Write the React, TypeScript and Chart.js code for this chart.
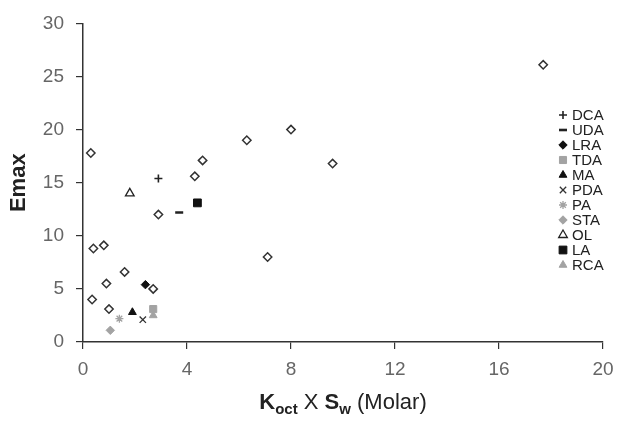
import React, { useEffect, useRef } from 'react';
import { Chart, registerables } from 'chart.js';
import { drawPoint } from 'chart.js/helpers';

Chart.register(...registerables);

const FONT = '"Liberation Sans", Arial, sans-serif';

// Open-diamond compounds (no legend entry)
const openX = [0.3, 6.3, 8.0, 17.7, 9.6, 4.6, 4.3, 2.9, 7.1, 0.4, 0.8, 1.6, 0.9, 2.7, 0.35, 1.0];
const openY = [17.8, 19.0, 20.0, 26.1, 16.8, 17.1, 15.6, 12.0, 8.0, 8.8, 9.1, 6.6, 5.5, 5.0, 4.0, 3.1];

// Labelled compounds
const seriesNames = ['DCA', 'UDA', 'LRA', 'TDA', 'MA', 'PDA', 'PA', 'STA', 'OL', 'LA', 'RCA'];
const seriesX = [2.9, 3.7, 2.4, 2.7, 1.9, 2.3, 1.4, 1.05, 1.8, 4.4, 2.7];
const seriesY = [15.4, 12.2, 5.4, 3.1, 2.8, 2.1, 2.2, 1.1, 14.0, 13.1, 2.5];

const xTickValues = [0, 4, 8, 12, 16, 20];
const yTickValues = [0, 5, 10, 15, 20, 25, 30];

const GRAY = '#a3a3a3';
const DARK = '#222222';

const seriesStyles = [
  { pointStyle: 'cross', radius: 4, borderWidth: 1.6, fill: DARK, stroke: DARK },
  { pointStyle: 'line', radius: 4, borderWidth: 2.6, fill: DARK, stroke: DARK },
  { pointStyle: 'rectRot', radius: 4.2, borderWidth: 1, fill: '#111', stroke: '#111' },
  { pointStyle: 'rect', radius: 5, borderWidth: 1, fill: GRAY, stroke: GRAY },
  { pointStyle: 'triangle', radius: 4.5, borderWidth: 1, fill: '#111', stroke: '#111' },
  { pointStyle: 'crossRot', radius: 4.5, borderWidth: 1.3, fill: '#333', stroke: '#333' },
  { pointStyle: 'star', radius: 4, borderWidth: 1.3, fill: GRAY, stroke: GRAY },
  { pointStyle: 'rectRot', radius: 4.2, borderWidth: 1, fill: GRAY, stroke: GRAY },
  { pointStyle: 'triangle', radius: 5, borderWidth: 1.3, fill: '#ffffff', stroke: DARK },
  { pointStyle: 'rect', radius: 5.5, borderWidth: 1, fill: '#111', stroke: '#111' },
  { pointStyle: 'triangle', radius: 4.5, borderWidth: 1, fill: GRAY, stroke: GRAY },
];

const legendPlugin = {
  id: 'customLegend',
  afterDraw(chart: any) {
    const ctx = chart.ctx;
    const x0 = 563;
    const y0 = 115;
    const step = 15;
    ctx.save();
    chart.data.datasets.forEach((ds: any, i: number) => {
      if (i === 0) return;
      const k = i - 1;
      const y = y0 + k * step;
      ctx.fillStyle = ds.backgroundColor;
      ctx.strokeStyle = ds.borderColor;
      ctx.lineWidth = ds.pointBorderWidth;
      drawPoint(ctx, { pointStyle: ds.pointStyle, rotation: 0, radius: ds.pointRadius, borderWidth: ds.pointBorderWidth }, x0, y);
      ctx.fillStyle = DARK;
      ctx.font = `15px ${FONT}`;
      ctx.textBaseline = 'middle';
      ctx.textAlign = 'left';
      ctx.fillText(ds.label, x0 + 9, y + 1);
    });
    ctx.restore();
  },
};

const xTitlePlugin = {
  id: 'xTitle',
  afterDraw(chart: any) {
    const ctx = chart.ctx;
    const area = chart.chartArea;
    const cx = (area.left + area.right) / 2;
    const base = 409;
    const parts = [
      { t: 'K', font: `bold 22px ${FONT}`, dy: 0 },
      { t: 'oct', font: `bold 15px ${FONT}`, dy: 5 },
      { t: ' X ', font: `22px ${FONT}`, dy: 0 },
      { t: 'S', font: `bold 22px ${FONT}`, dy: 0 },
      { t: 'w', font: `bold 15px ${FONT}`, dy: 5 },
      { t: ' (Molar)', font: `22px ${FONT}`, dy: 0 },
    ];
    ctx.save();
    ctx.fillStyle = DARK;
    ctx.textBaseline = 'alphabetic';
    ctx.textAlign = 'left';
    let total = 0;
    const widths = parts.map((p) => {
      ctx.font = p.font;
      const w = ctx.measureText(p.t).width;
      total += w;
      return w;
    });
    let x = cx - total / 2;
    parts.forEach((p, i) => {
      ctx.font = p.font;
      ctx.fillText(p.t, x, base + p.dy);
      x += widths[i];
    });
    ctx.restore();
  },
};

export default function App() {
  const ref = useRef<HTMLCanvasElement | null>(null);

  useEffect(() => {
    if (!ref.current) return;
    const datasets: any[] = [
      {
        label: 'Compounds',
        data: openX.map((x, i) => ({ x, y: openY[i] })),
        pointStyle: 'rectRot',
        pointRadius: 4.2,
        pointBorderWidth: 1.5,
        backgroundColor: '#ffffff',
        borderColor: '#333333',
      },
      ...seriesNames.map((name, i) => ({
        label: name,
        data: [{ x: seriesX[i], y: seriesY[i] }],
        pointStyle: seriesStyles[i].pointStyle,
        pointRadius: seriesStyles[i].radius,
        pointBorderWidth: seriesStyles[i].borderWidth,
        backgroundColor: seriesStyles[i].fill,
        borderColor: seriesStyles[i].stroke,
      })),
    ];

    const chart = new Chart(ref.current, {
      type: 'scatter',
      data: { datasets },
      plugins: [legendPlugin, xTitlePlugin],
      options: {
        animation: false,
        responsive: false,
        layout: { padding: { top: 20, right: 21, left: 0, bottom: 0 } },
        plugins: {
          legend: { display: false },
          tooltip: { enabled: false },
        },
        scales: {
          x: {
            type: 'linear',
            min: xTickValues[0],
            max: xTickValues[xTickValues.length - 1],
            afterBuildTicks: (s: any) => {
              s.ticks = xTickValues.map((v) => ({ value: v }));
            },
            afterFit: (s: any) => {
              s.height = 83;
            },
            border: { display: true, color: '#333', width: 1.5 },
            grid: { display: true, drawOnChartArea: false, drawTicks: true, tickLength: 7, color: '#333', lineWidth: 1.2 },
            ticks: { color: '#666', font: { size: 19, family: FONT }, padding: 9, maxRotation: 0 },
          },
          y: {
            type: 'linear',
            min: yTickValues[0],
            max: yTickValues[yTickValues.length - 1],
            afterBuildTicks: (s: any) => {
              s.ticks = yTickValues.map((v) => ({ value: v }));
            },
            afterFit: (s: any) => {
              s.width = 83;
            },
            border: { display: true, color: '#333', width: 1.5 },
            grid: { display: true, drawOnChartArea: false, drawTicks: true, tickLength: 7, color: '#333', lineWidth: 1.2 },
            ticks: { color: '#666', font: { size: 19, family: FONT }, padding: 12 },
            title: {
              display: true,
              text: 'Emax',
              color: DARK,
              font: { size: 22, weight: 'bold', family: FONT },
              padding: { top: 6, bottom: 0 },
            },
          },
        },
      } as any,
    });
    return () => chart.destroy();
  }, []);

  return (
    <div style={{ position: 'fixed', left: 0, top: 0, width: 624, height: 425, background: '#fff' }}>
      <canvas ref={ref} width={624} height={425} />
    </div>
  );
}
